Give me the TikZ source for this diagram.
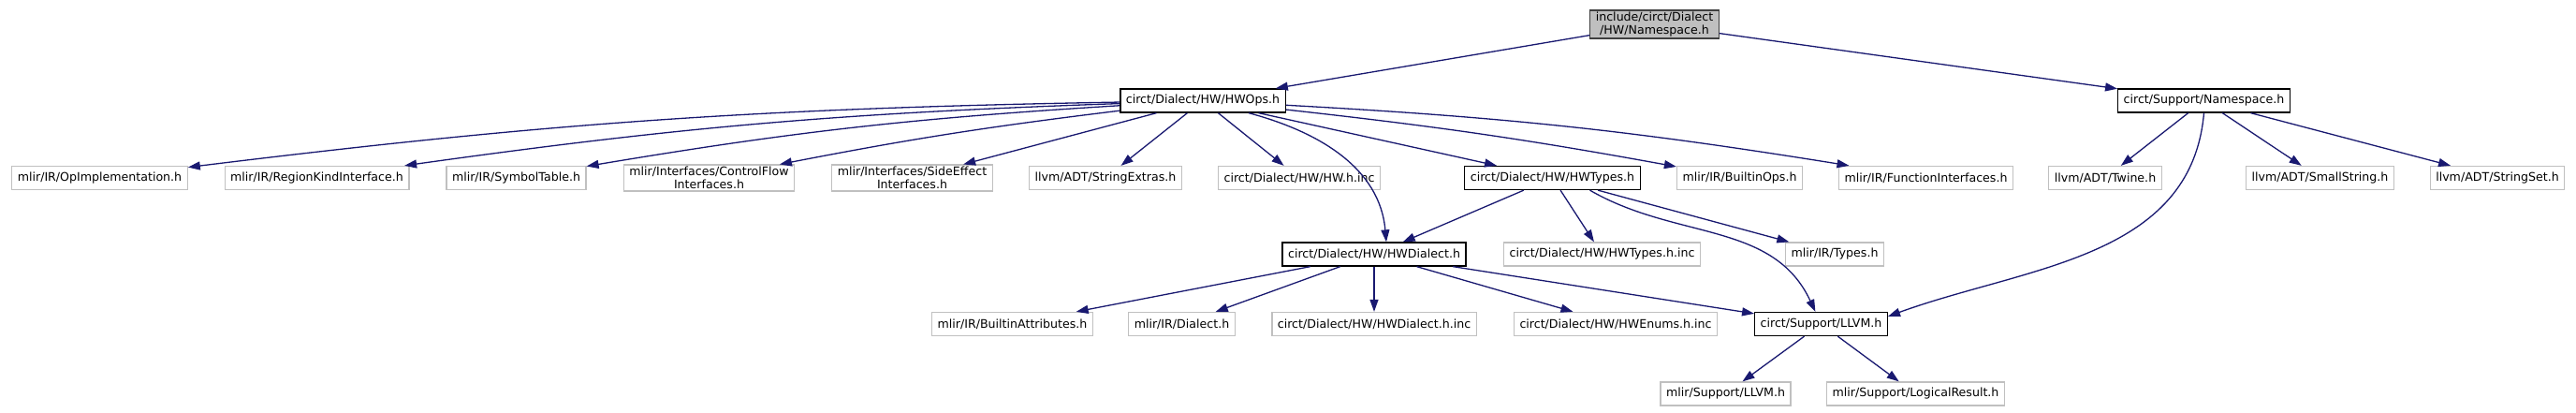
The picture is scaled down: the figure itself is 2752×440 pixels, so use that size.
\documentclass[tikz,border=0pt]{standalone}
\usepackage{fontspec}
\setmainfont{DejaVu Sans}
\usetikzlibrary{arrows.meta}

\definecolor{depblue}{HTML}{191970}
\definecolor{extgray}{HTML}{C0C0C0}
\definecolor{curgray}{HTML}{BFBFBF}
\definecolor{curedge}{HTML}{404040}

\tikzset{
  hdr/.style={draw=black, line width=1.3pt, fill=white, minimum height=25pt,
    inner xsep=6pt, inner ysep=2pt, align=center,
    font=\fontsize{12.6}{14}\selectfont},
  ext/.style={hdr, draw=extgray},
  cur/.style={hdr, draw=curedge, fill=curgray},
  dep/.style={draw=depblue, line width=1.3pt, -{Triangle[length=13pt,width=9pt]}}
}

\begin{document}
\begin{tikzpicture}[x=1pt, y=-1pt]
  \useasboundingbox (0,0) rectangle (2752,440);
  \node[cur] (root) at (1767.5,26) {include/circt/Dialect\\/HW/Namespace.h};
  \node[hdr] (hwops) at (1285,107.5) {circt/Dialect/HW/HWOps.h};
  \node[hdr] (supns) at (2354.5,107.5) {circt/Support/Namespace.h};
  \node[ext] (opimpl) at (106.5,190) {mlir/IR/OpImplementation.h};
  \node[ext] (regionkind) at (338.5,190) {mlir/IR/RegionKindInterface.h};
  \node[ext] (symtab) at (551.5,190) {mlir/IR/SymbolTable.h};
  \node[ext] (cflow) at (757.5,190) {mlir/Interfaces/ControlFlow\\Interfaces.h};
  \node[ext] (sideeff) at (974.5,190) {mlir/Interfaces/SideEffect\\Interfaces.h};
  \node[ext] (strext) at (1181,190) {llvm/ADT/StringExtras.h};
  \node[ext] (hwinc) at (1388,190) {circt/Dialect/HW/HW.h.inc};
  \node[hdr] (hwtypes) at (1658.5,190) {circt/Dialect/HW/HWTypes.h};
  \node[ext] (builtinops) at (1858.5,190) {mlir/IR/BuiltinOps.h};
  \node[ext] (funcif) at (2057.5,190) {mlir/IR/FunctionInterfaces.h};
  \node[ext] (twine) at (2249,190) {llvm/ADT/Twine.h};
  \node[ext] (smallstr) at (2478.5,190) {llvm/ADT/SmallString.h};
  \node[ext] (strset) at (2668,190) {llvm/ADT/StringSet.h};
  \node[hdr] (hwdialect) at (1468,271.5) {circt/Dialect/HW/HWDialect.h};
  \node[ext] (hwtypesinc) at (1711.5,271.5) {circt/Dialect/HW/HWTypes.h.inc};
  \node[ext] (types) at (1960,271.5) {mlir/IR/Types.h};
  \node[ext] (battr) at (1081.5,346) {mlir/IR/BuiltinAttributes.h};
  \node[ext] (dialect) at (1262.5,346) {mlir/IR/Dialect.h};
  \node[ext] (hwdialinc) at (1468,346) {circt/Dialect/HW/HWDialect.h.inc};
  \node[ext] (hwenums) at (1726,346) {circt/Dialect/HW/HWEnums.h.inc};
  \node[hdr] (cllvm) at (1945.5,346) {circt/Support/LLVM.h};
  \node[ext] (mllvm) at (1843.5,420.5) {mlir/Support/LLVM.h};
  \node[ext] (logres) at (2046.5,420.5) {mlir/Support/LogicalResult.h};

  \draw[dep] (root) -- (hwops);
  \draw[dep] (root) -- (supns);
  \draw[dep] (hwops) to[bend right=3] (opimpl);
  \draw[dep] (hwops) to[bend right=3] (regionkind);
  \draw[dep] (hwops) to[bend right=3] (symtab);
  \draw[dep] (hwops) to[bend right=2] (cflow);
  \foreach \t in {sideeff,strext,hwinc,hwtypes}
    \draw[dep] (hwops) -- (\t);
  \draw[dep] (hwops) to[bend left=2] (builtinops);
  \draw[dep] (hwops) to[bend left=3] (funcif);
  \draw[dep] (hwops) to[out=-15, in=95] ([xshift=13pt]hwdialect.north);
  \foreach \t in {twine,smallstr,strset}
    \draw[dep] (supns) -- (\t);
  \draw[dep] (supns.south) to[out=-95, in=20] ([yshift=-5pt]cllvm.north east);
  \foreach \t in {hwdialect,hwtypesinc,types}
    \draw[dep] (hwtypes) -- (\t);
  \draw[dep] ([xshift=40pt]hwtypes.south) to[out=-30, in=115] (cllvm);
  \foreach \t in {battr,dialect,hwdialinc,hwenums,cllvm}
    \draw[dep] (hwdialect) -- (\t);
  \draw[dep] (cllvm) -- (mllvm);
  \draw[dep] (cllvm) -- (logres);
\end{tikzpicture}
\end{document}
